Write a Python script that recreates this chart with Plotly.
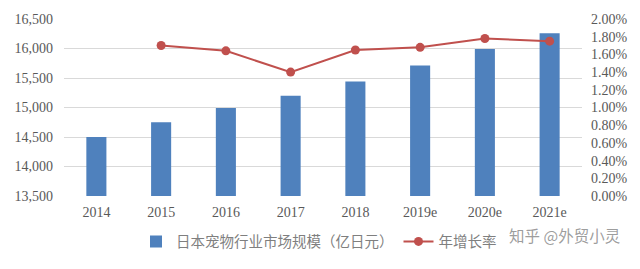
import plotly.graph_objects as go

years = ["2014", "2015", "2016", "2017", "2018", "2019e", "2020e", "2021e"]
market_size = [14500, 14750, 14990, 15200, 15440, 15710, 15990, 16260]
growth_years = ["2015", "2016", "2017", "2018", "2019e", "2020e", "2021e"]
growth_rate = [1.70, 1.64, 1.40, 1.65, 1.68, 1.78, 1.75]

bar_name = "日本宠物行业市场规模（亿日元）"
line_name = "年增长率"

serif = "Liberation Serif"
cjk = "Noto Sans CJK SC"
gray = "#595959"

fig = go.Figure()
fig.add_trace(go.Bar(
    x=years, y=market_size, name=bar_name,
    marker=dict(color="#4F81BD", line=dict(width=0)),
    width=0.31, yaxis="y",
))
fig.add_trace(go.Scatter(
    x=growth_years, y=growth_rate, name=line_name, mode="lines+markers",
    line=dict(color="#C0504D", width=2),
    marker=dict(color="#C0504D", size=9),
    yaxis="y2",
))

fig.update_layout(
    width=640, height=269,
    margin=dict(l=64, r=52, t=14, b=68),
    paper_bgcolor="white", plot_bgcolor="white",
    showlegend=True,
    legend=dict(
        orientation="h", x=0.139, xanchor="left", y=-0.257, yanchor="middle",
        font=dict(family=cjk, size=14.5, color="#7F7F7F"),
        bgcolor="rgba(0,0,0,0)", itemwidth=30,
    ),
    xaxis=dict(
        type="category", range=[-0.5, 7.5],
        showgrid=False, showline=False, zeroline=False,
        tickfont=dict(family=serif, size=14, color=gray),
        ticks="", ticklabelstandoff=6,
    ),
    yaxis=dict(
        range=[13500, 16500], dtick=500, tickformat=",",
        showgrid=True, gridcolor="#D9D9D9", gridwidth=1,
        zeroline=False, showline=False,
        tickfont=dict(family=serif, size=14, color=gray),
        ticklabelstandoff=10,
    ),
    yaxis2=dict(
        overlaying="y", side="right",
        range=[0, 2.0], dtick=0.2, tickformat=".2f", ticksuffix="%",
        showgrid=False, zeroline=False, showline=False,
        tickfont=dict(family=serif, size=14, color=gray),
        ticklabelstandoff=8,
    ),
    annotations=[dict(
        text="知乎 @外贸小灵", xref="paper", yref="paper",
        x=1.078, y=-0.22, xanchor="right", yanchor="middle",
        showarrow=False,
        font=dict(family=cjk, size=15.5, color="rgba(140,140,140,0.85)"),
    )],
)

fig.write_html("out.html")
